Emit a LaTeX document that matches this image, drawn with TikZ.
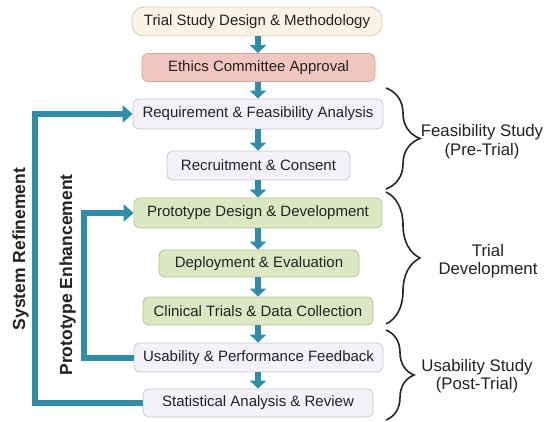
\documentclass[tikz,border=0pt]{standalone}
\usepackage{fontspec}
\setmainfont{Liberation Sans}
\usetikzlibrary{arrows.meta,decorations.pathreplacing}
\definecolor{teal1}{HTML}{2F8DA8}
\definecolor{creamF}{HTML}{FBF3E6}
\definecolor{creamD}{HTML}{D6CBB6}
\definecolor{pinkF}{HTML}{F2C6C0}
\definecolor{pinkD}{HTML}{D9A59D}
\definecolor{lavF}{HTML}{F4F2F8}
\definecolor{lavD}{HTML}{C9C7D2}
\definecolor{greenF}{HTML}{DCE8C3}
\definecolor{greenD}{HTML}{B3C696}
\definecolor{txt}{HTML}{222222}
\tikzset{
  box/.style={draw, line width=0.8pt, rounded corners=6pt, inner sep=0pt,
    font=\fontsize{15}{17}\selectfont, text=txt},
  cream/.style={box, fill=creamF, draw=creamD, rounded corners=12pt},
  pink/.style={box, fill=pinkF, draw=pinkD},
  lav/.style={box, fill=lavF, draw=lavD},
  green/.style={box, fill=greenF, draw=greenD},
  down/.style={draw=teal1, line width=5.5pt, -{Triangle[width=16pt,length=8pt]}},
  loopline/.style={draw=teal1, line width=6pt, -{Triangle[width=17pt,length=10pt]}},
  looplabel/.style={rotate=90, font=\bfseries\fontsize{17.5}{20}\selectfont, text=txt},
  phase/.style={align=center, font=\fontsize{16.8}{18.5}\selectfont, text=txt},
  bracestyle/.style={draw=black!85, line width=1.6pt, decorate}
}
\begin{document}
\begin{tikzpicture}[x=1pt,y=-1pt]
\useasboundingbox (0,0) rectangle (551,421);
\node[cream, minimum width=250pt, minimum height=29pt] (n1) at (257,21.5) {Trial Study Design \& Methodology};
\node[pink, minimum width=233pt, minimum height=28pt] (n2) at (258.5,67.5) {Ethics Committee Approval};
\node[lav, minimum width=250pt, minimum height=30pt] (n3) at (258,114) {Requirement \& Feasibility Analysis};
\node[lav, minimum width=183pt, minimum height=29pt] (n4) at (258.5,165.5) {Recruitment \& Consent};
\node[green, minimum width=248pt, minimum height=30pt] (n5) at (258,213) {Prototype Design \& Development};
\node[green, minimum width=200pt, minimum height=27pt] (n6) at (259,263.5) {Deployment \& Evaluation};
\node[green, minimum width=230pt, minimum height=28pt] (n7) at (258,311) {Clinical Trials \& Data Collection};
\node[lav, minimum width=249pt, minimum height=29pt] (n8) at (258.5,357.5) {Usability \& Performance Feedback};
\node[lav, minimum width=230pt, minimum height=28pt] (n9) at (258,403) {Statistical Analysis \& Review};

\foreach \a/\b in {n1/n2,n2/n3,n3/n4,n4/n5,n5/n6,n6/n7,n7/n8,n8/n9}
  \draw[down] (\a.south -| 258,0) -- (\b.north -| 258,0);

\coordinate (sysx) at (35,0);
\coordinate (protx) at (84,0);
\draw[loopline] (n9.west) -- (n9.west -| sysx) -- (n3.west -| sysx) -- (n3.west);
\draw[loopline] (n8.west) -- (n8.west -| protx) -- (n5.west -| protx) -- (n5.west);

\node[looplabel] (l1) at (20.5,249) {System Refinement};
\node[looplabel] (l2) at (67.5,275) {Prototype Enhancement};

\coordinate (b1a) at (386,88);
\coordinate (b1b) at (386,189);
\coordinate (b2a) at (386,192);
\coordinate (b2b) at (386,324);
\coordinate (b3a) at (386,330);
\coordinate (b3b) at (386,420);
\draw[bracestyle, decoration={brace, amplitude=34pt}] (b1a) -- (b1b);
\draw[bracestyle, decoration={brace, amplitude=34pt}] (b2a) -- (b2b);
\draw[bracestyle, decoration={brace, amplitude=28pt}] (b3a) -- (b3b);

\node[phase] (p1) at (482,141.5) {Feasibility Study\\(Pre-Trial)};
\node[phase] (p2) at (488,261) {Trial\\Development};
\node[phase] (p3) at (477,376) {Usability Study\\(Post-Trial)};
\end{tikzpicture}
\end{document}
